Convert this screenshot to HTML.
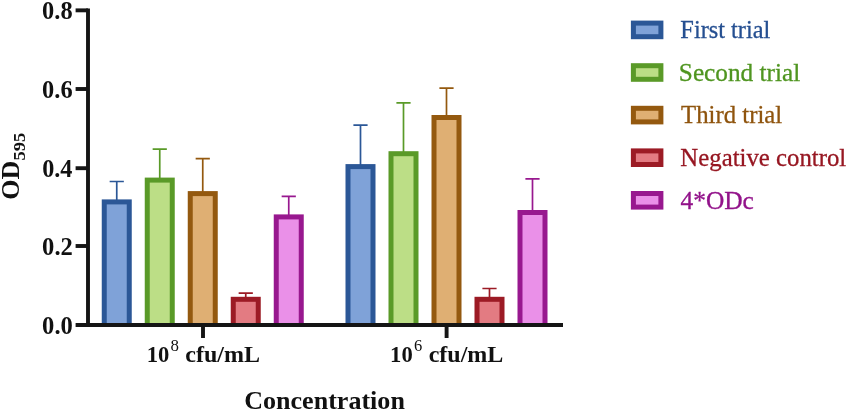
<!DOCTYPE html>
<html><head><meta charset="utf-8"><title>OD595 chart</title>
<style>
html,body{margin:0;padding:0;background:#fff;}
body{width:851px;height:412px;overflow:hidden;}
svg{display:block;will-change:transform;}
text{font-family:"Liberation Serif","Times New Roman",serif;}
.b{font-weight:bold;fill:#111;}
</style></head><body>
<svg width="851" height="412" viewBox="0 0 851 412">
<rect width="851" height="412" fill="#fff"/>
<path d="M116.75 200.40V181.50M109.65 181.50H123.85" stroke="#2b5797" stroke-width="1.7" fill="none"/>
<rect x="104.25" y="201.90" width="25.00" height="125.60" fill="#7fa2d8" stroke="#2b5797" stroke-width="5"/>
<path d="M159.75 178.60V149.20M152.65 149.20H166.85" stroke="#5a9a28" stroke-width="1.7" fill="none"/>
<rect x="147.25" y="180.10" width="25.00" height="147.40" fill="#bcde86" stroke="#5a9a28" stroke-width="5"/>
<path d="M202.75 192.10V158.70M195.65 158.70H209.85" stroke="#94590f" stroke-width="1.7" fill="none"/>
<rect x="190.25" y="193.60" width="25.00" height="133.90" fill="#dfaf73" stroke="#94590f" stroke-width="5"/>
<path d="M245.75 297.80V293.20M238.65 293.20H252.85" stroke="#9c1b25" stroke-width="1.7" fill="none"/>
<rect x="233.25" y="299.30" width="25.00" height="28.20" fill="#e37b82" stroke="#9c1b25" stroke-width="5"/>
<path d="M288.75 215.40V196.40M281.65 196.40H295.85" stroke="#98188f" stroke-width="1.7" fill="none"/>
<rect x="276.25" y="216.90" width="25.00" height="110.60" fill="#ea90e8" stroke="#98188f" stroke-width="5"/>
<path d="M360.50 165.10V125.20M353.40 125.20H367.60" stroke="#2b5797" stroke-width="1.7" fill="none"/>
<rect x="348.00" y="166.60" width="25.00" height="160.90" fill="#7fa2d8" stroke="#2b5797" stroke-width="5"/>
<path d="M403.50 152.20V102.80M396.40 102.80H410.60" stroke="#5a9a28" stroke-width="1.7" fill="none"/>
<rect x="391.00" y="153.70" width="25.00" height="173.80" fill="#bcde86" stroke="#5a9a28" stroke-width="5"/>
<path d="M446.50 116.00V88.20M439.40 88.20H453.60" stroke="#94590f" stroke-width="1.7" fill="none"/>
<rect x="434.00" y="117.50" width="25.00" height="210.00" fill="#dfaf73" stroke="#94590f" stroke-width="5"/>
<path d="M489.50 297.80V288.50M482.40 288.50H496.60" stroke="#9c1b25" stroke-width="1.7" fill="none"/>
<rect x="477.00" y="299.30" width="25.00" height="28.20" fill="#e37b82" stroke="#9c1b25" stroke-width="5"/>
<path d="M532.50 211.00V178.80M525.40 178.80H539.60" stroke="#98188f" stroke-width="1.7" fill="none"/>
<rect x="520.00" y="212.50" width="25.00" height="115.00" fill="#ea90e8" stroke="#98188f" stroke-width="5"/>
<rect x="60" y="326.9" width="520" height="12" fill="#fff"/>
<g stroke="#151515" stroke-width="3.9" fill="none">
<path d="M88 8.4V326.95"/>
<path d="M75.6 325H563" stroke-width="3.95"/>
<path d="M75.6 10.35H88"/>
<path d="M75.6 89.0H88"/>
<path d="M75.6 168.2H88"/>
<path d="M75.6 246.0H88"/>
<path d="M203 325V338"/><path d="M446.6 325V338"/>
</g>
<text class="b" transform="translate(42.12 19.10) scale(1.0003 1)" font-size="24.4">0.8</text>
<text class="b" transform="translate(42.12 97.75) scale(1.0003 1)" font-size="24.4">0.6</text>
<text class="b" transform="translate(42.13 176.95) scale(0.9919 1)" font-size="24.4">0.4</text>
<text class="b" transform="translate(42.12 254.75) scale(1.0088 1)" font-size="24.4">0.2</text>
<text class="b" transform="translate(42.12 333.75) scale(1.0088 1)" font-size="24.4">0.0</text>
<text class="b" transform="translate(146.69 362.15) scale(0.9502 1)" font-size="23.8">10</text><text fill="#111" transform="translate(170.52 351.00) scale(0.9660 1)" font-size="17.5">8</text><text class="b" transform="translate(185.28 362.15) scale(1.0090 1)" font-size="23.8">cfu/mL</text>
<text class="b" transform="translate(390.09 362.15) scale(0.9502 1)" font-size="23.8">10</text><text fill="#111" transform="translate(413.94 351.00) scale(0.9435 1)" font-size="17.5">6</text><text class="b" transform="translate(428.68 362.15) scale(1.0090 1)" font-size="23.8">cfu/mL</text>
<text class="b" transform="translate(244.20 408.80) scale(1.0182 1)" font-size="25.6">Concentration</text>
<g transform="translate(19.45 0) rotate(-90)"><text class="b" transform="translate(-199.80 0.00) scale(1.0513 1)" font-size="24.8">OD</text><text class="b" transform="translate(-160.54 5.25) scale(1.0853 1)" font-size="17.0">595</text></g>
<rect x="633.4" y="23.10" width="27.5" height="13.600000000000001" fill="#7fa2d8" stroke="#2b5797" stroke-width="5"/>
<text fill="#254f91" transform="translate(680.37 38.25) scale(0.9704 1)" font-size="25.1" stroke="#254f91" stroke-width="0.3">First trial</text>
<rect x="633.4" y="65.70" width="27.5" height="13.600000000000001" fill="#bcde86" stroke="#5a9a28" stroke-width="5"/>
<text fill="#4f9520" transform="translate(678.83 80.85) scale(1.0070 1)" font-size="25.1" stroke="#4f9520" stroke-width="0.3">Second trial</text>
<rect x="633.4" y="108.30" width="27.5" height="13.600000000000001" fill="#dfaf73" stroke="#94590f" stroke-width="5"/>
<text fill="#8f540d" transform="translate(681.10 123.45) scale(0.9871 1)" font-size="25.1" stroke="#8f540d" stroke-width="0.3">Third trial</text>
<rect x="633.4" y="150.90" width="27.5" height="13.600000000000001" fill="#e37b82" stroke="#9c1b25" stroke-width="5"/>
<text fill="#971722" transform="translate(680.36 166.05) scale(0.9882 1)" font-size="25.1" stroke="#971722" stroke-width="0.3">Negative control</text>
<rect x="633.4" y="193.50" width="27.5" height="13.600000000000001" fill="#ea90e8" stroke="#98188f" stroke-width="5"/>
<text fill="#92128a" transform="translate(680.49 208.65) scale(1.0129 1)" font-size="25.1" stroke="#92128a" stroke-width="0.3">4*ODc</text>
</svg></body></html>
